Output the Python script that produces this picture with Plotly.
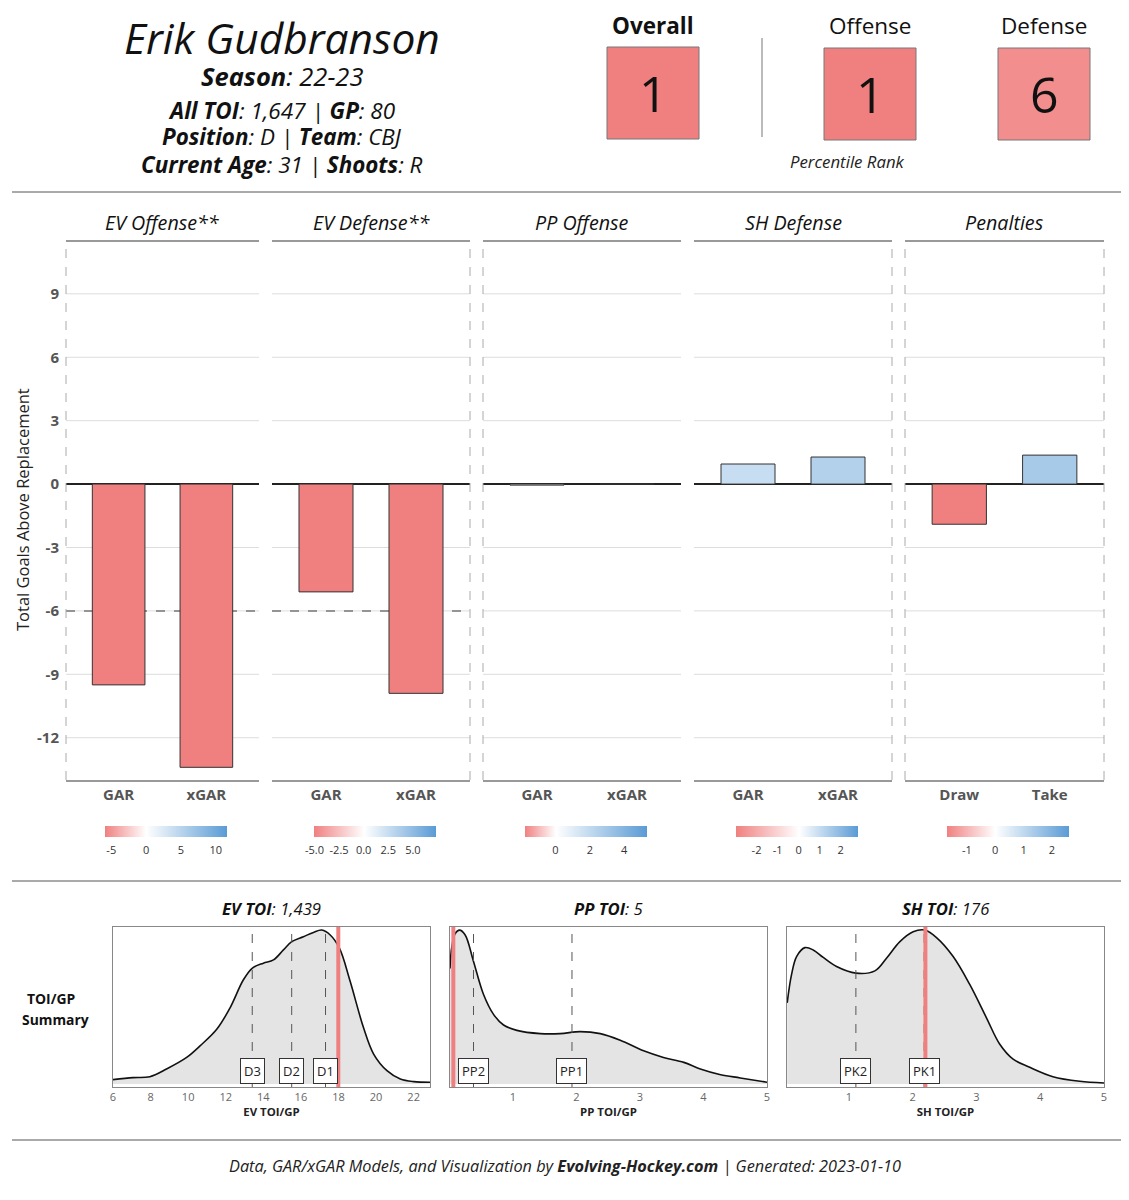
import plotly.graph_objects as go

# ---------------- data ----------------
player = "Erik Gudbranson"
season = "22-23"
all_toi = "1,647"
games_played = 80
position = "D"
team = "CBJ"
age = 31
shoots = "R"

pct_labels = ["Overall", "Offense", "Defense"]
pct_values = [1, 1, 6]

panel_titles = ["EV Offense**", "EV Defense**", "PP Offense", "SH Defense", "Penalties"]
panel_cats = [["GAR", "xGAR"], ["GAR", "xGAR"], ["GAR", "xGAR"], ["GAR", "xGAR"], ["Draw", "Take"]]
ev_offense = [-9.5, -13.4]
ev_defense = [-5.1, -9.9]
pp_offense = [-0.05, 0.0]
sh_defense = [0.95, 1.28]
penalties = [-1.9, 1.37]
ev_replacement_level = -6
y_ticks = [-12, -9, -6, -3, 0, 3, 6, 9]
y_ticktext = ["-12", "-9", "-6", "-3", "0", "3", "6", "9"]

cb_limits = [(-5.9, 11.6), (-5.1, 7.3), (-1.8, 5.3), (-3.0, 2.8), (-1.7, 2.6)]
cb_tickvals = [[-5, 0, 5, 10], [-5, -2.5, 0, 2.5, 5], [0, 2, 4], [-2, -1, 0, 1, 2], [-1, 0, 1, 2]]
cb_ticktext = [["-5", "0", "5", "10"], ["-5.0", "-2.5", "0.0", "2.5", "5.0"], ["0", "2", "4"],
               ["-2", "-1", "0", "1", "2"], ["-1", "0", "1", "2"]]

# TOI/GP densities (normalised height)
ev_x = [6.0, 7.07, 7.96, 8.85, 9.92, 10.63, 11.52, 12.23, 12.94, 13.42, 14.0, 14.54, 15.07, 15.51,
        16.13, 16.67, 17.11, 17.56, 18.05, 18.62, 19.33, 19.87, 20.58, 21.29, 22.0, 22.88]
ev_y = [0.028, 0.041, 0.047, 0.097, 0.172, 0.247, 0.355, 0.495, 0.677, 0.753, 0.785, 0.806, 0.871, 0.925,
        0.957, 0.985, 1.0, 0.968, 0.882, 0.667, 0.366, 0.194, 0.086, 0.032, 0.015, 0.011]
pp_x = [0.01, 0.039, 0.092, 0.16, 0.249, 0.38, 0.538, 0.695, 0.853, 1.063, 1.43, 1.745, 2.06, 2.375,
        2.69, 3.058, 3.37, 3.69, 3.95, 4.27, 4.58, 5.0]
pp_y = [0.75, 0.892, 0.978, 1.0, 0.968, 0.796, 0.581, 0.452, 0.383, 0.348, 0.327, 0.327, 0.340, 0.327,
        0.284, 0.215, 0.172, 0.14, 0.097, 0.06, 0.039, 0.011]
sh_x = [0.033, 0.101, 0.18, 0.31, 0.441, 0.598, 0.807, 1.11, 1.408, 1.59, 1.8, 2.008, 2.19, 2.374,
        2.635, 2.897, 3.157, 3.366, 3.575, 3.836, 4.2, 4.62, 5.0]
sh_y = [0.527, 0.71, 0.828, 0.886, 0.871, 0.822, 0.763, 0.72, 0.735, 0.817, 0.925, 0.989, 1.0, 0.951,
        0.828, 0.645, 0.43, 0.258, 0.161, 0.108, 0.047, 0.017, 0.006]

dens_titles = [("EV TOI", "1,439"), ("PP TOI", "5"), ("SH TOI", "176")]
dens_xtitles = ["EV TOI/GP", "PP TOI/GP", "SH TOI/GP"]
dens_ranges = [(6.0, 22.87), (0.01, 5.0), (0.03, 5.0)]
dens_ticks = [[6, 8, 10, 12, 14, 16, 18, 20, 22], [1, 2, 3, 4, 5], [1, 2, 3, 4, 5]]
ev_deploy = {"D3": 13.41, "D2": 15.51, "D1": 17.31}
pp_deploy = {"PP2": 0.38, "PP1": 1.93}
sh_deploy = {"PK2": 1.11, "PK1": 2.18}
player_toi_gp = [17.99, 0.0625, 2.2]

footer_date = "2023-01-10"

# ---------------- layout helpers ----------------
W, H = 1129, 1200


def px(x):
    return x / W


def py(y):
    return 1 - y / H


def note(text, x, y, size, color="#111", **kw):
    d = dict(text=text, x=px(x), y=py(y), xref="paper", yref="paper", showarrow=False,
             xanchor="center", yanchor="middle", font=dict(size=size, color=color))
    d.update(kw)
    return d


RED = "#F08080"
BLUE = "#5A9BD5"
X_RANGE = [-0.6, 1.6]
main_x = [(66, 259), (272, 470), (483, 681), (694, 892), (905, 1104)]
main_y = (241, 780)
dens_x = [(113, 430), (450, 767), (787, 1104)]
dens_y = (927, 1087)

fig = go.Figure()
layout = dict(width=W, height=H, margin=dict(l=0, r=0, t=0, b=0, autoexpand=False),
              paper_bgcolor="white", plot_bgcolor="white", showlegend=False,
              font=dict(family="Open Sans", color="#222"))
shapes = []
annotations = []

values = [ev_offense, ev_defense, pp_offense, sh_defense, penalties]
for i in range(5):
    s = "" if i == 0 else str(i + 1)
    x0, x1 = main_x[i]
    lo, hi = cb_limits[i]
    p = -lo / (hi - lo)
    layout["xaxis" + s] = dict(domain=[px(x0), px(x1)], anchor="y" + s, range=X_RANGE,
                               tickvals=[0, 1], ticktext=panel_cats[i], showgrid=False, zeroline=False,
                               showline=True, linecolor="#999", linewidth=1.5, ticks="", automargin=False,
                               tickfont=dict(size=15, color="#555", weight="bold"), fixedrange=True)
    layout["yaxis" + s] = dict(domain=[py(main_y[1]), py(main_y[0])], anchor="x" + s, range=[-14.0, 11.5],
                               tickvals=y_ticks, ticktext=y_ticktext, showticklabels=(i == 0),
                               showgrid=False, automargin=False,
                               zeroline=True, zerolinecolor="#222", zerolinewidth=1.5, ticks="",
                               tickfont=dict(size=15, color="#555", weight="bold"), ticklabelstandoff=6)
    layout["coloraxis" + s] = dict(
        cmin=lo, cmax=hi,
        colorscale=[[0, RED], [p, "#FFFFFF"], [1, BLUE]],
        colorbar=dict(orientation="h", x=px((x0 + x1) / 2 + 3.5), xanchor="center", y=py(826), yanchor="top",
                      len=122, lenmode="pixels", thickness=11, outlinewidth=0, xpad=0, ypad=0,
                      tickvals=cb_tickvals[i], ticktext=cb_ticktext[i], ticks="outside", ticklen=4,
                      tickcolor="rgba(0,0,0,0)", tickfont=dict(size=11, color="#333")))
    fig.add_trace(go.Bar(x=[0, 1], y=values[i], width=0.6, xaxis="x" + s, yaxis="y" + s,
                         marker=dict(color=values[i], coloraxis="coloraxis" + s,
                                     line=dict(color="#333", width=1)), hoverinfo="y"))
    # gridlines (below traces)
    for t in y_ticks:
        if t == 0:
            continue
        shapes.append(dict(type="line", xref="x%s domain" % s, yref="y" + s, x0=0, x1=1, y0=t, y1=t,
                           layer="below", line=dict(color="#DDDDDD", width=1)))
    # replacement-level dashed line in EV panels, under the bars
    if i < 2:
        shapes.append(dict(type="line", xref="x%s domain" % s, yref="y" + s, x0=0, x1=1,
                           y0=ev_replacement_level, y1=ev_replacement_level, layer="below",
                           line=dict(color="#777", width=1.5, dash="dash")))
    shapes.append(dict(type="line", xref="x%s domain" % s, yref="y%s domain" % s, x0=0, x1=1, y0=1, y1=1,
                       line=dict(color="#999", width=2)))
    annotations.append(note("<i>%s</i>" % panel_titles[i], (x0 + x1) / 2, 223, 19.7))

# dashed group borders
for s, xpos in [("", 0), ("2", 1), ("3", 0), ("4", 1), ("5", 0), ("5", 1)]:
    shapes.append(dict(type="line", xref="x%s domain" % s, yref="y%s domain" % s, x0=xpos, x1=xpos, y0=0, y1=1,
                       line=dict(color="#AAAAAA", width=1, dash="dash")))

annotations.append(note("Total Goals Above Replacement", 22, 510, 16.5, "#222", textangle=-90))

# ---------------- density panels ----------------
dens_data = [(ev_x, ev_y, ev_deploy), (pp_x, pp_y, pp_deploy), (sh_x, sh_y, sh_deploy)]
for j in range(3):
    s = str(6 + j)
    x0, x1 = dens_x[j]
    dx, dy, deploy = dens_data[j]
    layout["xaxis" + s] = dict(domain=[px(x0), px(x1)], anchor="y" + s, range=list(dens_ranges[j]),
                               tickvals=dens_ticks[j], showgrid=False, zeroline=False, showline=True,
                               mirror=True, linecolor="#888", linewidth=1, ticks="", automargin=False,
                               tickfont=dict(size=11, color="#666"),
                               title=dict(text="<b>%s</b>" % dens_xtitles[j], font=dict(size=11.4, color="#222"),
                                          standoff=4))
    layout["yaxis" + s] = dict(domain=[py(dens_y[1]), py(dens_y[0])], anchor="x" + s, range=[-0.02, 1.02],
                               showticklabels=False, showgrid=False, zeroline=False, showline=True,
                               mirror=True, linecolor="#888", linewidth=1, ticks="", automargin=False)
    fig.add_trace(go.Scatter(x=dx, y=dy, xaxis="x" + s, yaxis="y" + s, mode="lines", fill="tozeroy",
                             fillcolor="#E4E4E4", line=dict(color="#111", width=1.6, shape="spline"),
                             hoverinfo="x"))
    for lab, v in deploy.items():
        shapes.append(dict(type="line", xref="x" + s, yref="y%s domain" % s, x0=v, x1=v, y0=0, y1=1,
                           line=dict(color="#555", width=1, dash="dash")))
    shapes.append(dict(type="line", xref="x" + s, yref="y%s domain" % s, x0=player_toi_gp[j],
                       x1=player_toi_gp[j], y0=0, y1=1, line=dict(color=RED, width=4)))
    for lab, v in deploy.items():
        annotations.append(dict(text=lab, x=v, xref="x" + s, y=0.1, yref="y%s domain" % s, showarrow=False,
                                xanchor="center", yanchor="middle",
                                bgcolor="white", bordercolor="#333", borderwidth=1, borderpad=3,
                                font=dict(size=13, color="#222")))
    annotations.append(note("<b><i>%s</i></b><i>: %s</i>" % dens_titles[j], (x0 + x1) / 2, 909, 16.7))

annotations.append(note("<b>TOI/GP</b>", 51, 998, 13.9))
annotations.append(note("<b>Summary</b>", 55, 1019, 13.9))

# ---------------- header ----------------
header = [
    ("<i>%s</i>" % player, 37, 42.5),
    ("<b><i>Season</i></b><i>: %s</i>" % season, 76, 25.5),
    ("<b><i>All TOI</i></b><i>: %s | </i><b><i>GP</i></b><i>: %d</i>" % (all_toi, games_played), 110, 22.5),
    ("<b><i>Position</i></b><i>: %s | </i><b><i>Team</i></b><i>: %s</i>" % (position, team), 137, 22.4),
    ("<b><i>Current Age</i></b><i>: %d | </i><b><i>Shoots</i></b><i>: %s</i>" % (age, shoots), 164, 22.4),
]
for txt, yy, sz in header:
    annotations.append(note(txt, 282, yy, sz))

box_pos = [(607, 699, 47, 139, 653), (824, 916, 48, 140, 870), (998, 1090, 48, 140, 1044)]
box_colors = ["#F08080", "#F08080", "#F28E8E"]
for k in range(3):
    bx0, bx1, by0, by1, cx = box_pos[k]
    shapes.append(dict(type="rect", xref="paper", yref="paper", x0=px(bx0), x1=px(bx1), y0=py(by1), y1=py(by0),
                       fillcolor=box_colors[k], line=dict(color="#777", width=1)))
    lab = "<b>%s</b>" % pct_labels[k] if k == 0 else pct_labels[k]
    annotations.append(note(lab, cx, 25, 22.5))
    annotations.append(note(str(pct_values[k]), (bx0 + bx1) / 2, (by0 + by1) / 2, 50))
annotations.append(note("<i>Percentile Rank</i>", 847, 161, 16.8, "#222"))
shapes.append(dict(type="line", xref="paper", yref="paper", x0=px(762), x1=px(762), y0=py(137), y1=py(38),
                   line=dict(color="#BBBBBB", width=2)))

for yy in [192, 881, 1140]:
    shapes.append(dict(type="line", xref="paper", yref="paper", x0=px(12), x1=px(1121), y0=py(yy), y1=py(yy),
                       line=dict(color="#555", width=1)))

annotations.append(note(
    "<i>Data, GAR/xGAR Models, and Visualization by </i><b><i>Evolving-Hockey.com</i></b>"
    "<i> | Generated: %s</i>" % footer_date, 565, 1166, 16.3, "#222"))

layout["shapes"] = shapes
layout["annotations"] = annotations
fig.update_layout(**layout)
fig.write_html("out.html", config={"displayModeBar": False},
               post_script="document.body.style.margin='0';document.body.style.overflow='hidden';")
